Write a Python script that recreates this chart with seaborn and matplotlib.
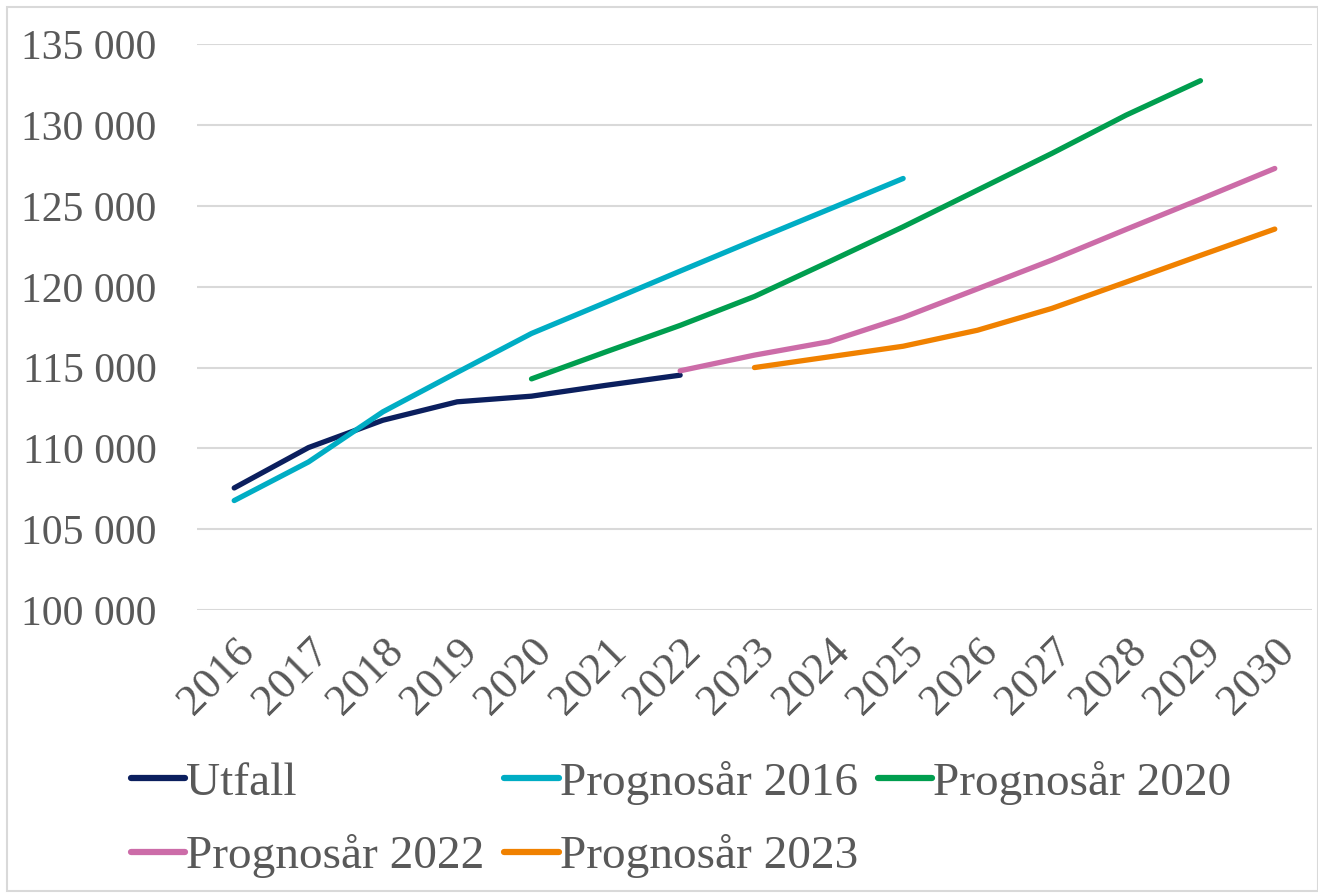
import numpy as np
import pandas as pd
import seaborn as sns
import matplotlib.pyplot as plt
from matplotlib.ticker import FuncFormatter
from matplotlib.patches import Rectangle

# Data
years = list(range(2016, 2031))
utfall = [107550, 110050, 111740, 112880, 113230, 113900, 114530]
prog_2016 = [106770, 109160, 112260, 114700, 117110, 119030, 120970, 122890, 124790, 126700]
prog_2020 = [114300, 115970, 117610, 119400, 121540, 123710, 125980, 128250, 130620, 132750]
prog_2022 = [114800, 115770, 116600, 118100, 119870, 121650, 123550, 125420, 127320]
prog_2023 = [115000, 115660, 116320, 117310, 118660, 120290, 121940, 123570]

series = {
    'Utfall': (2016, utfall),
    'Prognosår 2016': (2016, prog_2016),
    'Prognosår 2020': (2020, prog_2020),
    'Prognosår 2022': (2022, prog_2022),
    'Prognosår 2023': (2023, prog_2023),
}
colors = {
    'Utfall': '#0b1f5e',
    'Prognosår 2016': '#00adc4',
    'Prognosår 2020': '#009e4f',
    'Prognosår 2022': '#cc6ca8',
    'Prognosår 2023': '#f08100',
}

rows = []
for name, (start, vals) in series.items():
    for i, v in enumerate(vals):
        rows.append({'År': start + i, 'Värde': v, 'Serie': name})
df = pd.DataFrame(rows)

sns.set_style('white')
plt.rcParams['font.family'] = ['Liberation Serif', 'DejaVu Serif']

fig = plt.figure(figsize=(13.18, 8.94), dpi=100)
ax = fig.add_axes([0.1495, 0.3177, 0.8459, 0.6327])

sns.lineplot(data=df, x='År', y='Värde', hue='Serie', palette=colors,
             linewidth=3.8, ax=ax, legend=False, solid_capstyle='round')

ax.set_xlim(2015.5, 2030.5)
ax.set_ylim(100000, 135000)
ax.set_yticks(range(100000, 135001, 5000))
ax.set_xticks(years)
ax.set_xticklabels([str(y) for y in years], rotation=45, ha='right',
                   rotation_mode='anchor')
ax.yaxis.set_major_formatter(FuncFormatter(lambda v, p: f'{int(v):,}'.replace(',', ' ')))
ax.tick_params(axis='both', labelcolor='#595959', length=0)
ax.tick_params(axis='y', labelsize=30, pad=29)
ax.tick_params(axis='x', labelsize=32, pad=15)
ax.grid(axis='y', color='#d9d9d9', linewidth=1.5)
for s in ax.spines.values():
    s.set_visible(False)
ax.set_xlabel('')
ax.set_ylabel('')

# legend order so that columns match the original
order = ['Utfall', 'Prognosår 2022', 'Prognosår 2016', 'Prognosår 2023', 'Prognosår 2020']
handles = [plt.Line2D([], [], color=colors[n], linewidth=4.5) for n in order]
fig.legend(handles, order, loc='upper left', bbox_to_anchor=(0.085, 0.17),
           bbox_transform=fig.transFigure, ncol=3, frameon=False,
           fontsize=34, labelcolor='#595959', handlelength=1.15,
           handletextpad=0.02, columnspacing=0.42, labelspacing=0.62,
           borderaxespad=0)

# outer chart border
fig.patches.append(Rectangle((7 / 1318, 0.003), 1 - 7 / 1318, 1 - 7 / 894 - 0.003,
                             transform=fig.transFigure, fill=False,
                             edgecolor='#d9d9d9', linewidth=1.5))

fig.savefig('out.png', dpi=100)
